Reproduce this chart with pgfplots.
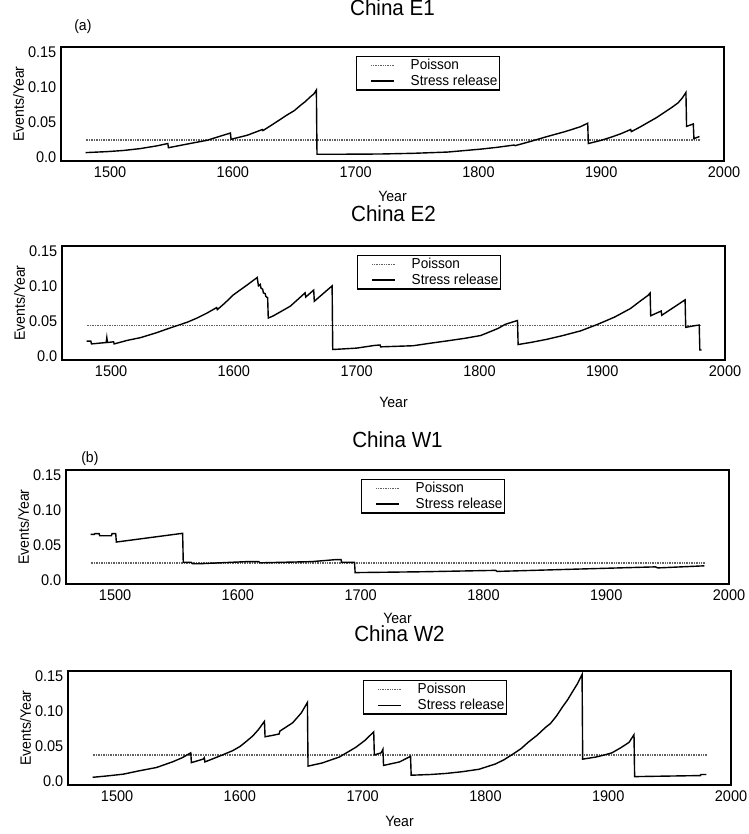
\documentclass[border=0pt]{standalone}
\usepackage{fontspec}
\setmainfont{Liberation Sans}[FakeStretch=0.94]
\usepackage{pgfplots}
\pgfplotsset{compat=1.18}

\pgfplotstableread{
year rate
1480 0.006
1497.5 0.0074
1510.6 0.009
1524.4 0.0117
1538 0.0156
1547 0.019
1547.5 0.013
1565 0.019
1579 0.0236
1589.7 0.0295
1598 0.034
1598.5 0.025
1612 0.031
1624 0.039
1624.5 0.0375
1633 0.047
1644 0.0597
1650 0.066
1655 0.0735
1659 0.079
1663 0.0857
1666 0.090
1668 0.0955
1668.5 0.0037
1690 0.0037
1720 0.0040
1747 0.0050
1775 0.0068
1802 0.011
1815 0.0135
1829 0.0168
1830 0.0160
1842.5 0.022
1856 0.029
1869.5 0.0355
1876 0.039
1883 0.0430
1889 0.048
1889.5 0.019
1900 0.0236
1908 0.028
1916 0.033
1924 0.039
1924.5 0.036
1931 0.042
1938 0.049
1945 0.056
1951 0.063
1957 0.070
1962.5 0.077
1966 0.084
1969 0.092
1969.5 0.0435
1975 0.047
1975.5 0.026
1980 0.029
}\EoneStress

\pgfplotstableread{
year rate
1480 0.021
1483.5 0.021
1484 0.017
1496 0.019
1496.5 0.026
1497 0.019
1502 0.020
1502.5 0.017
1513 0.022
1524 0.026
1537 0.033
1545 0.038
1553.5 0.043
1562 0.048
1570 0.054
1578 0.061
1586 0.069
1586.5 0.066
1593 0.076
1599.5 0.087
1605 0.094
1610.6 0.101
1619 0.112
1620 0.100
1621.5 0.102
1622 0.097
1623.5 0.095
1624 0.090
1625.5 0.089
1626 0.085
1627.5 0.083
1628 0.054
1632 0.057
1646 0.071
1658 0.090
1658.5 0.084
1665 0.094
1665.5 0.078
1680 0.100
1680.5 0.009
1700 0.011
1714 0.0147
1719 0.0155
1719.5 0.0128
1746 0.0144
1760 0.018
1774 0.0214
1788 0.025
1801 0.029
1808 0.034
1815 0.039
1821 0.045
1831 0.0505
1831.5 0.0161
1843 0.0195
1855 0.0236
1868 0.029
1882.5 0.0357
1896 0.0448
1910 0.0553
1923 0.0676
1930 0.077
1937 0.086
1939 0.0897
1939.5 0.0573
1948 0.064
1948.5 0.058
1967.5 0.080
1968 0.0407
1975 0.043
1979 0.044
1979.5 0.0083
1981 0.0083
}\EtwoStress

\pgfplotstableread{
year rate
1480 0.065
1483 0.065
1483.5 0.066
1487 0.066
1487.5 0.063
1497 0.063
1497.5 0.066
1500.5 0.066
1501 0.054
1555 0.0665
1555.5 0.025
1562 0.025
1563 0.023
1569 0.023
1607 0.026
1617 0.026
1618 0.0243
1660 0.026
1680 0.0289
1684 0.0289
1684.5 0.025
1695 0.025
1695.5 0.0103
1750 0.0115
1810 0.0135
1811 0.012
1870 0.015
1940 0.0185
1942 0.017
1980 0.020
}\WoneStress

\pgfplotstableread{
year rate
1480 0.005
1492 0.007
1505 0.0095
1518 0.0143
1532 0.019
1545 0.027
1553 0.033
1560 0.040
1560.5 0.026
1570 0.031
1571 0.033
1571.5 0.027
1583 0.035
1594 0.043
1600 0.049
1605 0.056
1610.4 0.064
1615 0.073
1620 0.085
1620.5 0.063
1626.7 0.065
1632 0.067
1632.5 0.071
1643 0.083
1650 0.097
1655 0.112
1655.5 0.021
1667 0.0255
1681 0.034
1694.5 0.048
1702 0.058
1709 0.070
1709.5 0.037
1715 0.040
1716.5 0.045
1717 0.022
1730 0.027
1739 0.035
1739.5 0.008
1755 0.009
1767.6 0.0105
1781 0.013
1794.7 0.0165
1808 0.024
1815 0.030
1822 0.0378
1829 0.046
1835 0.0554
1842 0.065
1849 0.0765
1853 0.082
1858 0.093
1862.5 0.105
1867 0.116
1870.6 0.1265
1875 0.139
1878.7 0.152
1879.2 0.031
1890 0.034
1897 0.037
1903 0.040
1910 0.047
1917 0.055
1921 0.066
1921.5 0.006
1975 0.0075
1975.5 0.009
1980 0.009
}\WtwoStress

\pgfplotsset{
  panel/.style={
    scale only axis, width=663bp, height=114bp,
    xmin=1460, xmax=2000, ymin=-0.006, ymax=0.157,
    xtick={1500,1600,1700,1800,1900,2000},
    xticklabels={1500,1600,1700,1800,1900,2000},
    ytick={0,0.05,0.1,0.15},
    yticklabels={0.0,0.05,0.10,0.15},
    major tick length=0pt,
    axis line style={line width=1.6bp},
    tick label style={font=\fontsize{15.5}{16}\selectfont},
    /pgf/number format/assume math mode=true,
    xticklabel style={inner sep=0bp, yshift=-6bp},
    yticklabel style={inner sep=0bp, xshift=-4.5bp},
    xlabel={Year}, ylabel={Events/Year},
    label style={font=\fontsize{15}{16}\selectfont},
    ylabel style={at={(axis description cs:-0.064,0.5)}, anchor=center},
    xlabel style={at={(axis description cs:0.5,0)}, anchor=center},
    title style={at={(axis description cs:0.5,1)}, anchor=center, font=\fontsize{22}{24}\selectfont},
    legend style={at={(axis description cs:0.445,0.925)}, anchor=north west,
      draw=black, line width=1.4bp, inner xsep=1.5bp, inner ysep=2.5bp,
      font=\fontsize{14.5}{15}\selectfont, nodes={inner sep=0.5bp}, row sep=3bp},
    legend cell align=left,
    legend image code/.code={\path[draw=none] (0bp,0bp) -- (52bp,0bp); \draw[##1] (13bp,0bp) -- (36bp,0bp);},
  },
  poisson/.style={line width=1.4bp, black!62, dash pattern=on 1bp off 0.7bp},
  stress/.style={line width=1.4bp, black},
}

\begin{document}
\begin{tikzpicture}
\useasboundingbox (0,0) rectangle (749bp,-834bp);

% Panel 1: China E1
\begin{axis}[panel, at={(61bp,-47bp)}, anchor=north west,
  title={China E1}, title style={yshift=33bp}, xlabel style={yshift=-35bp},
  extra description/.code={\node[font=\fontsize{15}{16}\selectfont] at (axis description cs:0.033,1.175) {(a)};}]
\addplot[poisson] coordinates {(1480,0.024) (1980,0.024)};
\addlegendentry{Poisson}
\addplot[stress] table[x=year,y=rate] {\EoneStress};
\addlegendentry{Stress release}
\end{axis}

% Panel 2: China E2
\begin{axis}[panel, at={(62bp,-246bp)}, anchor=north west,
  title={China E2}, title style={yshift=26bp}, xlabel style={yshift=-42bp}]
\addplot[poisson] coordinates {(1480,0.043) (1980,0.043)};
\addlegendentry{Poisson}
\addplot[stress] table[x=year,y=rate] {\EtwoStress};
\addlegendentry{Stress release}
\end{axis}

% Panel 3: China W1
\begin{axis}[panel, at={(66bp,-470bp)}, anchor=north west,
  title={China W1}, title style={yshift=24bp}, xlabel style={yshift=-34bp},
  extra description/.code={\node[font=\fontsize{15}{16}\selectfont] at (axis description cs:0.036,1.1) {(b)};}]
\addplot[poisson] coordinates {(1480,0.024) (1980,0.024)};
\addlegendentry{Poisson}
\addplot[stress] table[x=year,y=rate] {\WoneStress};
\addlegendentry{Stress release}
\end{axis}

% Panel 4: China W2
\begin{axis}[panel, at={(68bp,-671bp)}, anchor=north west,
  title={China W2}, title style={yshift=31bp}, xlabel style={yshift=-36bp}]
\addplot[poisson] coordinates {(1480,0.037) (1980,0.037)};
\addlegendentry{Poisson}
\addplot[stress] table[x=year,y=rate] {\WtwoStress};
\addlegendentry{Stress release}
\end{axis}
\end{tikzpicture}
\end{document}
